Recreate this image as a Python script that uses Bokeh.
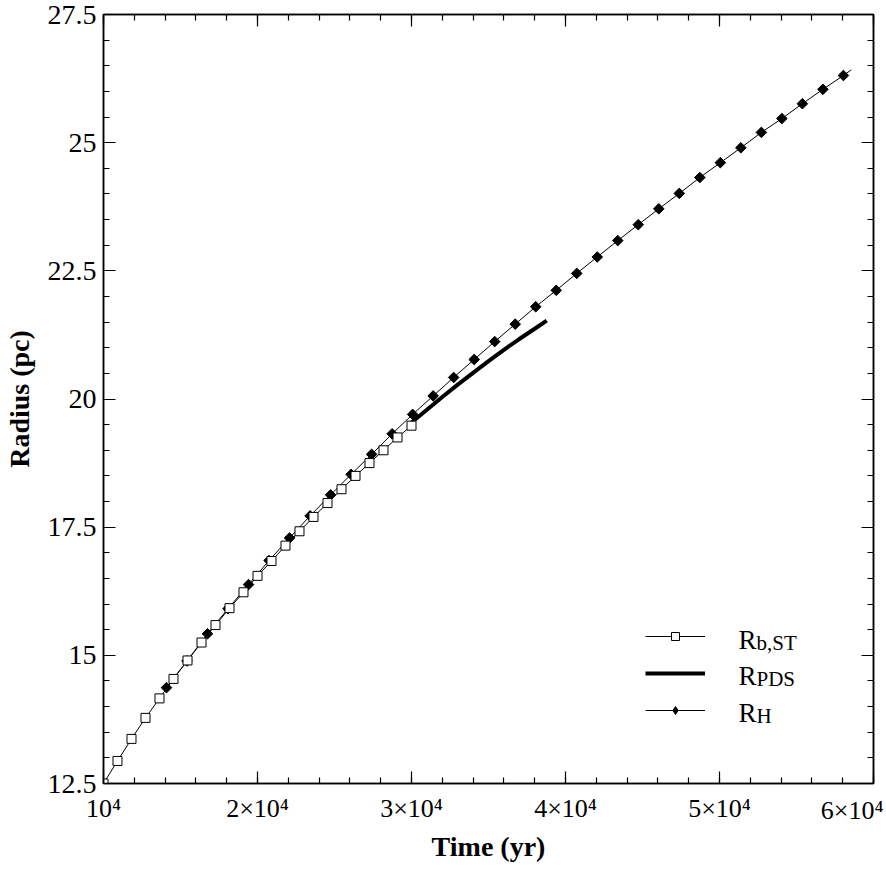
from bokeh.plotting import figure
from bokeh.models import (Range1d, SingleIntervalTicker, LinearAxis, Legend, LegendItem, Label,
                          CustomLabelingPolicy)
from bokeh.core.properties import value
from bokeh.embed import file_html
from bokeh.resources import INLINE

# ---------------- data ----------------
rbst_t = [10000, 10909, 11818, 12727, 13636, 14545, 15455, 16364, 17273, 18182, 19091, 20000,
          20909, 21818, 22727, 23636, 24545, 25455, 26364, 27273, 28182, 29091, 30000]
rbst_r = [12.50, 12.94, 13.37, 13.78, 14.16, 14.54, 14.90, 15.25, 15.59, 15.92, 16.23, 16.55,
          16.84, 17.14, 17.42, 17.70, 17.97, 18.24, 18.50, 18.75, 19.00, 19.25, 19.48]

pds_t = [30000, 31000, 32000, 33000, 34000, 35000, 36000, 37000, 38000, 38780]
pds_r = [19.54, 19.79, 20.04, 20.28, 20.51, 20.74, 20.96, 21.17, 21.37, 21.53]

rh_t = [14090, 15422, 16754, 18086, 19418, 20750, 22082, 23414, 24746, 26078, 27410, 28742,
        30074, 31406, 32738, 34070, 35402, 36734, 38066, 39398, 40730, 42062, 43394, 44726,
        46058, 47390, 48722, 50054, 51386, 52718, 54050, 55382, 56714, 58046]
rh_r = [14.37, 14.89, 15.42, 15.91, 16.38, 16.85, 17.29, 17.72, 18.13, 18.53, 18.92, 19.32,
        19.70, 20.06, 20.42, 20.77, 21.12, 21.46, 21.80, 22.12, 22.45, 22.77, 23.09, 23.40,
        23.71, 24.01, 24.32, 24.61, 24.90, 25.20, 25.47, 25.76, 26.04, 26.31]
rh_end_t = [58550]
rh_end_r = [26.42]

x_ticks = [10000, 20000, 30000, 40000, 50000, 60000]
x_tick_labels = ["10⁴", "2×10⁴", "3×10⁴", "4×10⁴", "5×10⁴", "6×10⁴"]
y_ticks = [12.5, 15, 17.5, 20, 22.5, 25, 27.5]
y_tick_labels = ["12.5", "15", "17.5", "20", "22.5", "25", "27.5"]

x_label = "Time (yr)"
y_label = "Radius (pc)"
legend_main = ["R", "R", "R"]
legend_sub = ["b,ST", "PDS", "H"]

FONT = "Liberation Serif"

# ---------------- figure ----------------
p = figure(width=886, height=886, output_backend="svg", toolbar_location=None,
           x_range=Range1d(x_ticks[0], x_ticks[-1]), y_range=Range1d(y_ticks[0], y_ticks[-1]),
           min_border_left=100, min_border_right=13, min_border_top=14, min_border_bottom=103,
           x_axis_location=None, y_axis_location=None)
p.xgrid.visible = False
p.ygrid.visible = False
p.outline_line_color = "black"
p.outline_line_width = 1.5
p.background_fill_color = "white"
p.border_fill_color = "white"

xt = SingleIntervalTicker(interval=10000, num_minor_ticks=5)
yt = SingleIntervalTicker(interval=2.5, num_minor_ticks=5)

no_labels = CustomLabelingPolicy(code="""
    for (const i of indices) { indices.unset(i) }
    return indices
""")


def style_axis(ax):
    ax.axis_line_color = "black"
    ax.axis_line_width = 1.5
    ax.major_tick_in = 12
    ax.major_tick_out = 0
    ax.minor_tick_in = 6
    ax.minor_tick_out = 0
    ax.major_tick_line_width = 1.2
    ax.minor_tick_line_width = 1.2
    ax.major_label_text_font = FONT
    ax.major_label_text_color = "black"
    ax.axis_label_text_font = FONT
    ax.axis_label_text_font_style = "bold"
    ax.axis_label_text_color = "black"


xover = {float(t): l for t, l in zip(x_ticks, x_tick_labels)}
xover[float(x_ticks[-1])] = ""
bottom = LinearAxis(ticker=xt, major_label_overrides=xover)
style_axis(bottom)
bottom.major_label_text_font_size = "26px"
bottom.major_label_standoff = 10
p.add_layout(bottom, "below")

left = LinearAxis(ticker=yt, axis_label=y_label,
                  major_label_overrides={float(t): l for t, l in zip(y_ticks, y_tick_labels)})
style_axis(left)
left.major_label_text_font_size = "28px"
left.major_label_standoff = 7
left.axis_label_text_font_size = "28px"
left.axis_label_standoff = 10
p.add_layout(left, "left")

top = LinearAxis(ticker=xt, major_label_policy=no_labels)
style_axis(top)
top.major_label_standoff = 0
top.major_label_text_font_size = "1px"
p.add_layout(top, "above")
right = LinearAxis(ticker=yt, major_label_policy=no_labels)
style_axis(right)
right.major_label_standoff = 0
right.major_label_text_font_size = "1px"
p.add_layout(right, "right")

# last x tick label, kept inside the page like the original, and the x-axis title
p.add_layout(Label(x=x_ticks[-1], y=y_ticks[0], x_offset=10, y_offset=-12,
                   text=x_tick_labels[-1], text_align="right", text_baseline="top",
                   text_font=FONT, text_font_size="26px", text_color="black"), "below")
p.add_layout(Label(x=(x_ticks[0] + x_ticks[-1]) / 2, y=y_ticks[0], y_offset=-47,
                   text=x_label, text_align="center", text_baseline="top",
                   text_font=FONT, text_font_size="28px", text_font_style="bold",
                   text_color="black"), "below")

# ---------------- series ----------------
rh_line = p.line(rh_t + rh_end_t, rh_r + rh_end_r, line_color="black", line_width=1)
rh_mark = p.scatter(rh_t, rh_r, marker="square", angle=0.7853981634, size=7.5,
                    fill_color="black", line_color="black", line_width=1)
rh_key = p.scatter(rh_t, rh_r, marker="diamond", fill_color="black", line_color="black",
                   line_width=1, visible=False)

pds_line = p.line(pds_t, pds_r, line_color="black", line_width=4)

rb_line = p.line(rbst_t, rbst_r, line_color="black", line_width=1)
rb_mark = p.scatter(rbst_t, rbst_r, marker="square", size=9,
                    fill_color="white", line_color="black", line_width=1)

legend = Legend(items=[LegendItem(label=value(" "), renderers=[rb_line, rb_mark]),
                       LegendItem(label=value(" "), renderers=[pds_line]),
                       LegendItem(label=value(" "), renderers=[rh_line, rh_key])],
                location=(542, 63), padding=0, spacing=17, margin=0,
                glyph_width=60, glyph_height=20, label_height=20, label_width=0,
                label_standoff=0, label_text_font_size="1px",
                inactive_fill_alpha=0,
                border_line_alpha=0, background_fill_alpha=0)
p.add_layout(legend)

# legend texts with subscripts (offsets in px from the frame's bottom-right corner)
row_base = [144, 108, 71]
for main, sub, yb in zip(legend_main, legend_sub, row_base):
    p.add_layout(Label(x=x_ticks[-1], y=y_ticks[0], x_offset=-135, y_offset=yb,
                       text=main, text_align="left", text_baseline="alphabetic",
                       text_font=FONT, text_font_size="27px", text_color="black"))
    p.add_layout(Label(x=x_ticks[-1], y=y_ticks[0], x_offset=-117, y_offset=yb - 3,
                       text=sub, text_align="left", text_baseline="alphabetic",
                       text_font=FONT, text_font_size="21px", text_color="black"))

open("out.html", "w").write(file_html(p, INLINE))
